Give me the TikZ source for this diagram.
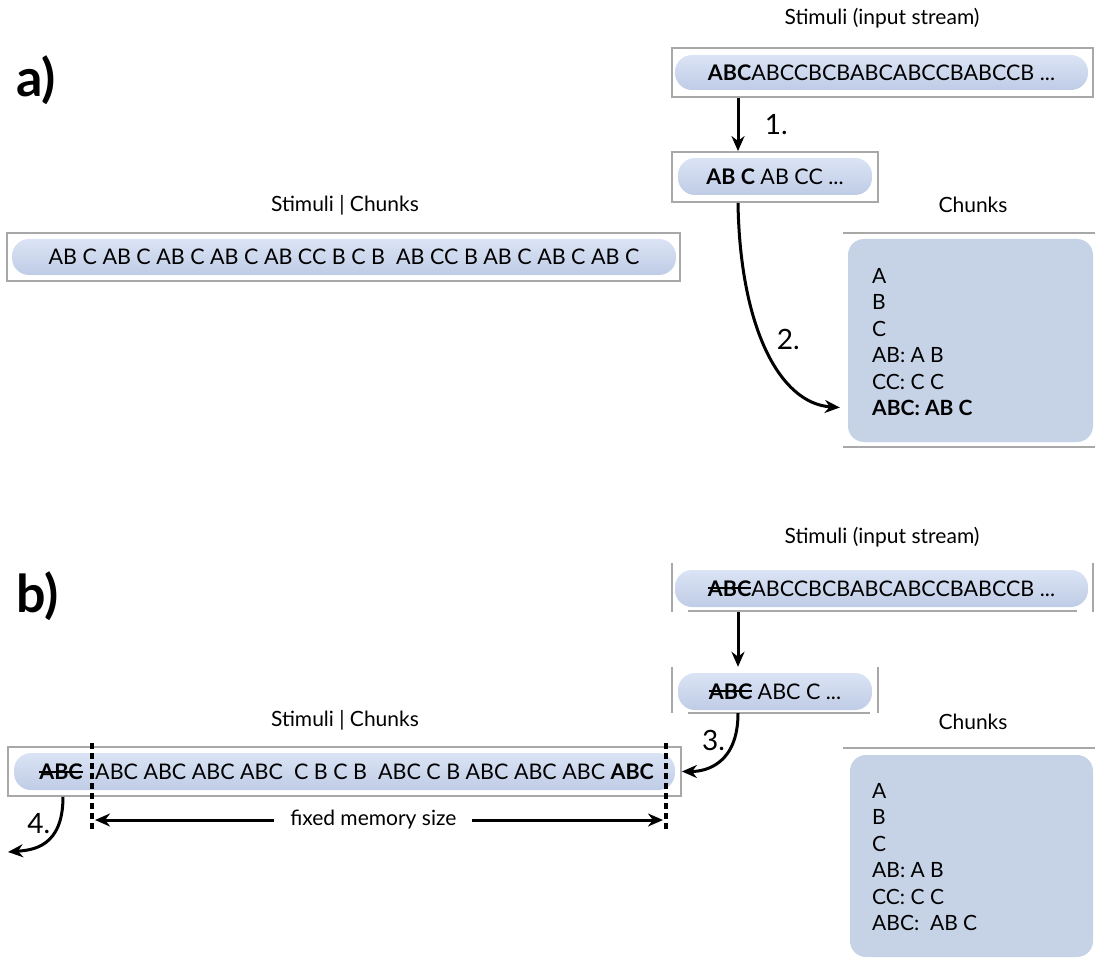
\documentclass[tikz,border=0pt]{standalone}
\usepackage{fontspec}
\setmainfont{Lato}
\usetikzlibrary{arrows.meta, calc, positioning}
\definecolor{pillblue}{HTML}{BFCCE6}
\definecolor{pilltop}{HTML}{DBE4F5}
\definecolor{boxblue}{HTML}{C6D2E6}
\definecolor{framegray}{HTML}{A8A8A8}
\newcommand{\streamfont}{\fontsize{21.5}{26}\selectfont}
\newcommand{\struck}[1]{\sbox0{#1}\rlap{\usebox0}\rule[0.33em]{\wd0}{1.8pt}}
\tikzstyle{frame} = [rectangle, inner sep=0pt]
\tikzstyle{frameline} = [draw=framegray, line width=1.8pt]
\tikzstyle{pill} = [rectangle, rounded corners=17pt, top color=pilltop, bottom color=pillblue, inner sep=0pt, font=\streamfont]
\tikzstyle{chunkbox} = [rectangle, rounded corners=16pt, fill=boxblue, inner sep=0pt]
\tikzstyle{chunklist} = [inner sep=0pt, anchor=north west, align=left, font=\fontsize{21}{26.5}\selectfont]
\tikzstyle{title} = [font=\fontsize{21}{25}\selectfont]
\tikzstyle{panel} = [font=\fontsize{52}{60}\selectfont\bfseries]
\tikzstyle{steplabel} = [font=\fontsize{28}{32}\selectfont]
\tikzstyle{wire} = [-{Stealth[length=15pt,width=13pt]}, line width=3pt]
\tikzstyle{span} = [{Stealth[length=15pt,width=13pt]}-{Stealth[length=15pt,width=13pt]}, line width=3pt]
\tikzstyle{memline} = [dash pattern=on 6pt off 4pt, line width=3.4pt]

\begin{document}
\begin{tikzpicture}[x=1pt, y=-1pt]
  \useasboundingbox (0,0) rectangle (1095,960);

  % a)
  \node[panel] (labA) at (36,80) {a)};
  \node[title] (inTitleA) at (882,18) {Stimuli (input stream)};
  \node[frame, frameline, minimum width=421, minimum height=49] (inFrameA) at (882.5,72.5) {};
  \node[pill, minimum width=413, minimum height=35] (inA) at (881.5,72.5) {\textbf{ABC}ABCCBCBABCABCCBABCCB ...};
  \node[frame, frameline, minimum width=206, minimum height=50] (pairFrameA) at (775,177) {};
  \node[pill, minimum width=194, minimum height=37] (pairA) at (775,176.5) {\textbf{AB C} AB CC ...};
  \coordinate (colA) at (738,0);
  \draw[wire] (inFrameA.south -| colA) -- node[steplabel, right=22pt] {1.} (pairFrameA.north -| colA);

  \node[title] (chunkTitleA) at (973,205) {Chunks};
  \node[chunkbox, minimum width=245, minimum height=203] (chunksA) at (970.5,340.5) {};
  \draw[frameline] ($(chunksA.north west)+(-5,-6)$) -- ++(252,0);
  \draw[frameline] ($(chunksA.south west)+(-5,5)$) -- ++(252,0);
  \node[chunklist] (listA) at (872,268) {A\\B\\C\\AB: A B\\CC: C C\\\textbf{ABC: AB C}};
  \draw[wire] (pairFrameA.south -| colA) .. controls +(2,125) and +(-60,-4) .. node[steplabel, pos=0.45, right=10pt] {2.} ($(chunksA.west)+(-8,67)$);

  \node[title] (seqTitleA) at (345,205) {Stimuli | Chunks};
  \node[frame, frameline, minimum width=673, minimum height=48] (seqFrameA) at (343.5,257) {};
  \node[pill, minimum width=664, minimum height=36] (seqA) at (344,257) {AB C AB C AB C AB C AB CC B C B \ AB CC B AB C AB C AB C};

  % b)
  \node[panel] (labB) at (38,596) {b)};
  \node[title] (inTitleB) at (882,537) {Stimuli (input stream)};
  \node[frame, minimum width=421, minimum height=49] (inFrameB) at (882.5,587.5) {};
  \draw[frameline] (inFrameB.north west) -- (inFrameB.south west);
  \draw[frameline] (inFrameB.north east) -- (inFrameB.south east);
  \draw[frameline] ($(inFrameB.south west)+(16,-1)$) -- ($(inFrameB.south east)+(-16,-1)$);
  \node[pill, minimum width=413, minimum height=37] (inB) at (881.5,588.5) {\struck{\textbf{ABC}}ABCCBCBABCABCCBABCCB ...};
  \node[frame, minimum width=206, minimum height=46] (pairFrameB) at (775,690) {};
  \draw[frameline] (pairFrameB.north west) -- (pairFrameB.south west);
  \draw[frameline] (pairFrameB.north east) -- (pairFrameB.south east);
  \draw[frameline] ($(pairFrameB.south west)+(16,0)$) -- ($(pairFrameB.south east)+(-8,0)$);
  \node[pill, minimum width=194, minimum height=37] (pairB) at (775,691.5) {\struck{\textbf{ABC}} ABC C ...};
  \draw[wire] (inFrameB.south -| colA) -- (pairFrameB.north -| colA);

  \node[title] (chunkTitleB) at (973,722) {Chunks};
  \node[chunkbox, minimum width=243, minimum height=202] (chunksB) at (971.5,856) {};
  \draw[frameline] ($(chunksB.north west)+(-7,-7)$) -- ++(252,0);
  \node[chunklist] (listB) at (872,783) {A\\B\\C\\AB: A B\\CC: C C\\ABC: \ AB C};

  \node[title] (seqTitleB) at (345,720) {Stimuli | Chunks};
  \node[frame, frameline, minimum width=673, minimum height=49] (seqFrameB) at (344.5,771.5) {};
  \node[pill, minimum width=661, minimum height=37] (seqB) at (344.5,771.5) {};
  \node[font=\streamfont, inner sep=0pt] (dropB) at (61,772) {\struck{\textbf{ABC}}};
  \node[font=\streamfont, inner sep=0pt, anchor=west] (keepB) at (95,772) {ABC ABC ABC ABC \ C B C B \ ABC C B ABC ABC ABC \textbf{ABC}};
  \draw[wire] (pairFrameB.south -| colA) .. controls +(0,50) and +(25,0) .. node[steplabel, pos=0.22, left=4pt] {3.} (seqFrameB.east |- seqB);

  \coordinate (memL) at (92,743);
  \coordinate (memR) at (666,743);
  \draw[memline] (memL) -- ++(0,86);
  \draw[memline] (memR) -- ++(0,86);
  \draw[span] ($(memL)+(3,77)$) -- node[pos=0.49, fill=white, inner xsep=16pt, font=\fontsize{21}{25}\selectfont] {fixed memory size} ($(memR)+(-3,77)$);

  \coordinate (colB) at (63,0);
  \draw[wire] (seqFrameB.south -| colB) .. controls +(0,50) and +(25,-2) .. node[steplabel, pos=0.22, left=4pt] {4.} (8,852);
\end{tikzpicture}
\end{document}
